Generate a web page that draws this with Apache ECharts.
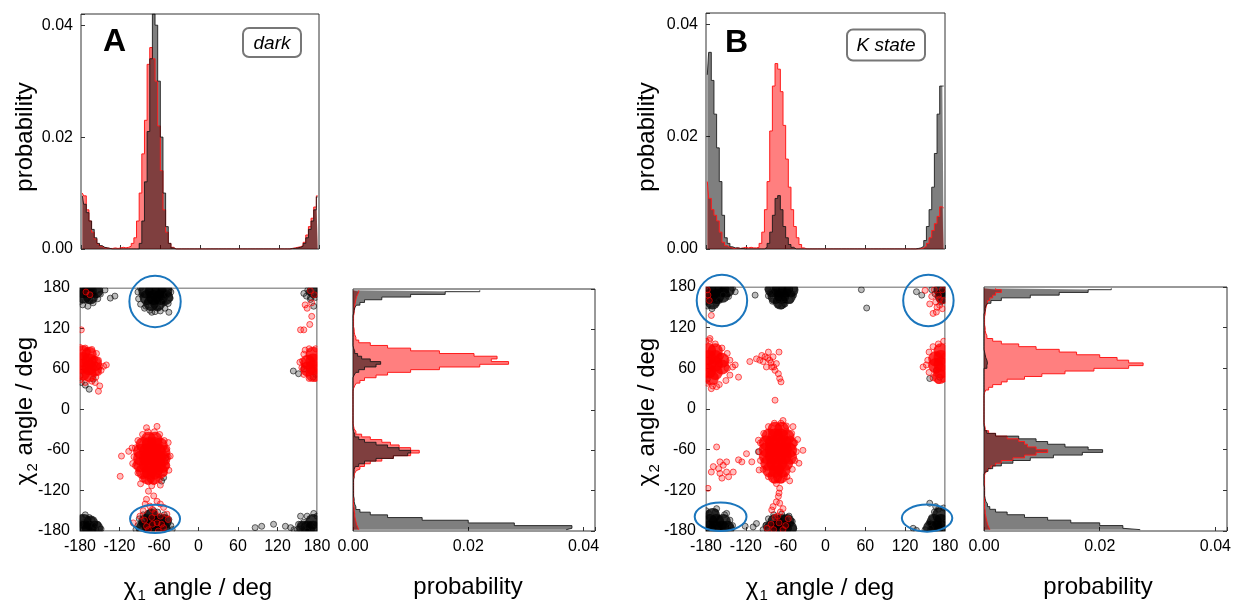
<!DOCTYPE html>
<html><head><meta charset="utf-8">
<script src="https://cdn.jsdelivr.net/npm/echarts@6/dist/echarts.min.js"></script>
<style>html,body{margin:0;padding:0;background:#fff}#c{width:1233px;height:602px}</style>
</head><body><div id="c"></div>
<script>
const FONT = "'Liberation Sans', Arial, sans-serif";

// bin centres (deg), 4-degree bins
const bins = [
-178,-174,-170,-166,-162,-158,-154,-150,-146,-142,
-138,-134,-130,-126,-122,-118,-114,-110,-106,-102,
-98,-94,-90,-86,-82,-78,-74,-70,-66,-62,
-58,-54,-50,-46,-42,-38,-34,-30,-26,-22,
-18,-14,-10,-6,-2,2,6,10,14,18,
22,26,30,34,38,42,46,50,54,58,
62,66,70,74,78,82,86,90,94,98,
102,106,110,114,118,122,126,130,134,138,
142,146,150,154,158,162,166,170,174,178];

// Panel A, chi1 distribution
const topA_black = [
0.0095,0.008,0.0065,0.005,0.0035,0.002,0.001,0.0006,0.0003,0.0002,
0.0001,0,0,0,0,0,0,0,0,0,
0,0,0.001,0.005,0.012,0.021,0.034,0.042,0.040,0.030,
0.020,0.010,0.004,0.001,0.0002,0,0,0,0,0,
0,0,0,0,0,0,0,0,0,0,
0,0,0,0,0,0,0,0,0,0,
0,0,0,0,0,0,0,0,0,0,
0,0,0,0,0,0,0,0,0,0.0001,
0.0001,0.0002,0.0003,0.0005,0.001,0.002,0.0035,0.005,0.007,0.0093];
const topA_red = [
0.010,0.0095,0.007,0.005,0.003,0.0018,0.0009,0.0005,0.0002,0.0002,
0.0001,0.0001,0.0002,0.0001,0.0002,0.0003,0.0002,0.0003,0.0005,0.001,
0.002,0.005,0.010,0.017,0.023,0.033,0.036,0.034,0.030,0.022,
0.014,0.007,0.003,0.001,0.0003,0,0,0,0,0,
0,0,0,0,0,0,0,0,0,0,
0,0,0,0,0,0,0,0,0,0,
0,0,0,0,0,0,0,0,0,0,
0,0,0,0,0,0,0,0,0,0.0001,
0.0002,0.0003,0.0004,0.0006,0.0012,0.0025,0.004,0.0055,0.0075,0.0095];
// Panel A, chi2 distribution
const rightA_black = [
0.037,0.038,0.028,0.020,0.012,0.006,0.003,0.0012,0.0005,0.0003,
0.0002,0.0002,0.0001,0.0001,0.0001,0.0001,0.0001,0.0001,0.0001,0.0002,
0.0001,0.0002,0.0002,0.0004,0.001,0.002,0.004,0.007,0.0095,0.010,
0.008,0.006,0.004,0.002,0.001,0.0003,0.0001,0,0,0,
0,0,0,0,0,0,0,0,0,0,
0,0,0,0,0,0,0,0.0002,0.0005,0.001,
0.002,0.004,0.0048,0.003,0.0015,0.0008,0.0003,0.0001,0,0,
0,0,0,0,0,0,0,0,0,0,
0.0001,0.0002,0.0003,0.0006,0.0012,0.002,0.005,0.010,0.016,0.022];
const rightA_red = [
0.001,0.0008,0.0006,0.0005,0.0004,0.0003,0.0003,0.0002,0.0002,0.0001,
0.0001,0.0001,0.0001,0.0001,0.0001,0.0001,0.0001,0.0001,0.0001,0.0001,
0.0002,0.0003,0.0006,0.0012,0.002,0.003,0.005,0.007,0.010,0.0115,
0.010,0.008,0.0065,0.005,0.003,0.0015,0.0005,0.0002,0.0001,0,
0,0,0,0,0,0,0,0,0,0,
0,0,0.0001,0.0003,0.0006,0.0012,0.002,0.004,0.006,0.010,
0.015,0.022,0.027,0.024,0.025,0.021,0.015,0.010,0.006,0.003,
0.001,0.0005,0.0003,0.0002,0.0002,0.0001,0.0001,0.0001,0.0001,0.0001,
0.0002,0.0002,0.0003,0.0003,0.0004,0.0005,0.0006,0.0008,0.001,0.001];
// Panel B, chi1 distribution
const topB_black = [
0.031,0.035,0.030,0.024,0.018,0.012,0.006,0.002,0.001,0.0004,
0.0002,0.0002,0.0001,0.0001,0,0,0,0,0,0,
0,0,0.0003,0.001,0.003,0.006,0.009,0.0095,0.007,0.004,
0.002,0.0008,0.0003,0,0,0,0,0,0,0,
0,0,0,0,0,0,0,0,0,0,
0,0,0,0,0,0,0,0,0,0,
0,0,0,0,0,0,0,0,0,0,
0,0,0,0,0,0,0,0,0,0.0001,
0.0002,0.0005,0.0015,0.004,0.007,0.011,0.017,0.024,0.029,0.029];
const topB_red = [
0.012,0.009,0.007,0.006,0.005,0.003,0.0012,0.0006,0.0003,0.0002,
0.0001,0.0002,0.0001,0.0002,0.0003,0.0002,0.0003,0.0002,0.0002,0.0003,
0.001,0.003,0.007,0.012,0.021,0.029,0.033,0.032,0.028,0.022,
0.016,0.011,0.007,0.004,0.002,0.0008,0.0002,0,0,0,
0,0,0,0,0,0,0,0,0,0,
0,0,0,0,0,0,0,0,0,0,
0,0,0,0,0,0,0,0,0,0,
0,0,0,0,0,0,0,0,0,0,
0.0001,0.0002,0.0005,0.001,0.002,0.0033,0.0045,0.0058,0.0075,0.0073];
// Panel B, chi2 distribution
const rightB_black = [
0.027,0.024,0.020,0.015,0.011,0.007,0.004,0.002,0.001,0.0006,
0.0003,0.0002,0.0001,0.0001,0.0001,0.0001,0,0,0,0,
0,0.0003,0.0007,0.0015,0.003,0.005,0.008,0.012,0.017,0.0205,
0.018,0.014,0.011,0.009,0.006,0.002,0.0005,0.0001,0,0,
0,0,0,0,0,0,0,0,0,0,
0,0,0,0,0,0,0,0,0,0,
0.0005,0.0006,0.0005,0.0003,0.0002,0.0001,0,0,0,0,
0,0,0,0,0,0,0,0,0,0,
0.0002,0.0002,0.0003,0.0006,0.0012,0.003,0.008,0.013,0.018,0.022];
const rightB_red = [
0.001,0.0008,0.0006,0.0005,0.0004,0.0003,0.0002,0.0002,0.0001,0.0001,
0.0001,0.0001,0.0001,0.0001,0.0001,0.0001,0.0001,0.0001,0.0001,0.0001,
0.0001,0.0002,0.0006,0.0012,0.002,0.003,0.005,0.007,0.009,0.011,
0.009,0.0075,0.007,0.006,0.004,0.002,0.0008,0.0002,0.0001,0,
0,0,0,0,0,0,0,0,0,0,
0.0001,0.0003,0.0008,0.0015,0.003,0.004,0.007,0.010,0.014,0.019,
0.025,0.0275,0.025,0.023,0.020,0.016,0.013,0.009,0.006,0.003,
0.0015,0.0005,0.0003,0.0002,0.0002,0.0001,0.0001,0.0001,0.0001,0.0002,
0.0002,0.0003,0.0004,0.0006,0.0006,0.001,0.0015,0.002,0.003,0.002];

// Scatter points [chi1, chi2] (deg). "Core" = dense cluster interiors.
const A_blackCore = [
[-80,176],[-70,176],[-60,176],[-51,176],[-78,166],[-68,166],[-58,166],[-50,166],[-72,157],[-62,157],
[-176,176],[-166,176],[-156,176],[-174,168],[-164,167],
[176,176],
[-84,-176],[-74,-176],[-64,-176],[-54,-176],[-80,-166],[-70,-166],[-60,-166],[-52,-166],[-72,-158],
[-176,-176],[-166,-176],[-156,-176],[-174,-166],[-164,-168],
[174,-176],[166,-176],[160,-176],[174,-166]];
const A_black = [
[-92,174],[-91,164],[-88,156],[-82,150],[-74,147],[-66,145],[-58,146],[-51,150],[-46,157],[-43,165],[-42,174],[-88,180],[-45,180],[-71,144],[-45,144],[-80,153],[-52,158],[-86,170],[-47,170],[-62,150],
[-180,160],[-176,155],[-168,153],[-160,158],[-153,164],[-149,171],[-152,177],[-142,177],[-134,165],[-127,168],[-165,162],[-158,170],
[166,177],[160,172],[164,168],[170,166],[178,166],[168,174],[180,172],[175,153],[170,163],
[-178,40],[-172,36],[-166,30],[-160,45],[-180,50],
[144,57],[152,53],[160,60],[174,48],[178,52],
[-53,-101],[-56,-106],[-50,-72],[-60,-92],
[-92,-172],[-90,-162],[-84,-156],[-74,-153],[-62,-152],[-52,-156],[-45,-163],[-42,-172],[-95,-178],[-40,-178],[-68,-150],[-86,-168],
[-178,-160],[-172,-156],[-162,-164],[-153,-170],[-148,-177],[-156,-178],[-180,-170],[-166,-160],[-158,-172],
[158,-176],[160,-167],[165,-158],[175,-154],[180,-158],[150,-178],[155,-170],[165,-180],[86,-175],[96,-173],[114,-170],[132,-173],[140,-175],[145,-178],[152,-170],[155,-158],[178,-170]];
const A_redCore = [
[-176,84],[-166,82],[-176,74],[-166,72],[-158,68],[-176,64],[-166,62],[-158,60],[-176,54],[-166,52],
[174,82],[174,72],[166,70],[174,62],[166,60],[174,52],
[-76,-44],[-66,-44],
[-84,-52],[-75,-52],[-66,-52],[-58,-53],
[-88,-62],[-79,-62],[-70,-62],[-61,-62],[-54,-63],
[-88,-72],[-79,-72],[-70,-72],[-61,-72],[-54,-73],
[-88,-82],[-79,-82],[-70,-82],[-61,-82],[-55,-83],
[-84,-92],[-75,-92],[-66,-92],[-58,-91],
[-77,-100],[-68,-100]];
const A_red = [
[-171,174],[-165,170],
[162,155],[172,158],[155,118],[160,118],[172,138],[165,150],[169,126],[176,170],[170,176],
[-180,92],[-172,91],[-162,89],[-155,83],[-152,73],[-150,64],[-152,55],[-156,48],[-162,42],[-172,40],[-180,44],[-148,58],[-144,64],[-140,66],[-157,40],[-150,35],[-152,27],[-178,118],[-168,86],[-158,74],
[160,82],[158,72],[157,62],[160,52],[168,46],[178,46],[178,90],[168,90],[162,88],[180,62],[154,70],
[-46,-70],[-48,-58],[-52,-46],[-59,-37],[-67,-33],[-77,-33],[-85,-37],[-92,-46],[-96,-57],[-98,-70],[-96,-83],[-92,-94],[-85,-103],[-76,-107],[-68,-107],[-59,-103],[-52,-94],[-48,-83],
[-117,-69],[-119,-99],[-106,-62],[-101,-57],[-63,-25],[-79,-27],[-46,-49],[-43,-69],[-100,-80],[-45,-90],[-88,-110],[-58,-112],
[-71,-113],[-76,-121],[-68,-128],[-79,-133],[-63,-136],[-74,-143],[-58,-140],[-81,-140],[-53,-145],[-70,-148],
[-99,-168],[-46,-163],[-89,-158],[-79,-173],[-63,-168],[-53,-175],[-71,-160],[-58,-158],[-84,-150],[-48,-155],[-66,-153],[-76,-178],[-61,-180],[-70,-170],[-82,-164],[-56,-170]];

const B_blackCore = [
[-176,176],[-166,176],[-156,176],[-148,176],[-174,166],[-164,166],[-155,168],[-170,158],
[-80,176],[-70,176],[-60,176],[-52,176],[-76,166],[-66,166],[-56,166],[-68,158],
[174,176],[176,166],
[-82,-176],[-72,-176],[-62,-176],[-54,-176],[-76,-166],[-66,-166],[-58,-166],
[-176,-176],[-166,-176],[-156,-176],[-148,-176],[-174,-166],[-164,-166],[-154,-166],[-170,-157],
[176,-176],[166,-176],[158,-176],[174,-166],[164,-166],[172,-156]];
const B_black = [
[-180,158],[-178,152],[-171,148],[-160,160],[-146,166],[-136,173],[-140,178],[-154,168],[-165,156],[-106,168],
[-87,177],[-86,167],[-80,159],[-71,154],[-61,155],[-53,160],[-48,168],[-47,177],[-66,152],[-83,172],
[54,176],[62,149],
[137,173],[145,168],[160,176],[180,176],[174,158],[165,170],
[-163,72],[-178,44],
[-101,-63],
[-90,-172],[-86,-162],[-78,-156],[-66,-155],[-55,-158],[-50,-166],[-48,-176],[-94,-178],[-109,-174],[-104,-169],[-121,-173],[-89,-171],
[-180,-160],[-176,-154],[-166,-152],[-164,-147],[-152,-156],[-144,-164],[-140,-172],[-146,-179],[-149,-154],[-144,-174],[-180,-150],
[158,-176],[156,-168],[160,-160],[164,-152],[170,-148],[178,-146],[180,-165],[157,-139],[150,-178],[132,-176],[137,-179],[166,-144],
[167,57],[172,47],[157,45]];
const B_redCore = [
[-176,86],[-166,86],[-176,76],[-166,76],[-156,72],[-176,66],[-166,66],[-156,62],[-176,56],[-166,54],[-172,46],
[174,86],[174,76],[166,74],[174,66],[166,64],[174,56],[172,48],
[-76,-30],[-66,-30],
[-85,-40],[-76,-40],[-67,-40],[-58,-41],
[-89,-50],[-80,-50],[-71,-50],[-62,-50],[-54,-51],
[-89,-60],[-80,-60],[-71,-60],[-62,-60],[-54,-61],
[-89,-70],[-80,-70],[-71,-70],[-62,-70],[-54,-71],
[-87,-80],[-78,-80],[-69,-80],[-60,-80],
[-84,-90],[-74,-90],[-64,-90],
[-76,-99],[-68,-99]];
const B_red = [
[-177,168],[-175,160],[-172,138],[-178,176],
[150,175],[160,166],[166,158],[172,153],[167,143],[162,141],[176,148],[157,155],[170,168],[178,160],[164,176],[176,176],[172,162],[168,150],
[-180,100],[-174,104],[-166,96],[-156,90],[-148,82],[-144,72],[-140,62],[-144,50],[-150,42],[-160,36],[-170,34],[-178,38],[-136,65],[-131,47],[-172,30],[-164,33],[-175,101],[-180,52],[-158,78],[-148,60],
[-114,70],[-104,74],[-96,79],[-86,84],[-94,70],[-84,72],[-81,62],[-76,57],[-71,52],[-69,45],[-89,62],[-79,77],[-99,72],[-70,84],[-74,67],[-91,77],[-67,40],[-82,68],[-87,75],[-78,62],
[-76,13],
[-44,-63],[-46,-50],[-51,-36],[-59,-25],[-67,-21],[-77,-21],[-86,-26],[-93,-36],[-98,-50],[-100,-63],[-98,-76],[-94,-89],[-86,-100],[-77,-105],[-67,-105],[-58,-100],[-50,-89],[-46,-76],
[-101,-46],[-64,-17],[-49,-26],[-34,-61],[-69,-117],[-74,-110],[-42,-45],[-40,-80],[-100,-90],[-54,-106],
[-177,-117],[-164,-56],[-119,-66],[-111,-78],[-126,-78],[-131,-75],[-149,-78],[-159,-78],[-169,-85],[-172,-93],[-159,-95],[-149,-93],[-146,-100],[-156,-102],[-139,-93],[-161,-88],[-154,-83],
[-71,-129],[-69,-139],[-79,-144],[-74,-137],[-81,-149],[-64,-147],[-70,-124],
[-82,-170],[-70,-168],[-60,-172],[-76,-160],[-64,-178],[-56,-162],[-88,-176],[-68,-152],[-72,-158],[-78,-178],
[162,92],[170,96],[178,100],[156,84],[154,72],[152,65],[156,54],[162,46],[170,42],[178,44],[147,62],[180,78]];

// annotation ellipses [cx, cy, rx, ry] in degrees
const A_rings = [[-66,160,39,38],[-66,-162,38,21]];
const B_rings = [[-156,160,38,38],[155,160,38,38],[-158,-159,39,21],[153,-161,38,20]];

const probTicks = [0, 0.02, 0.04];
const angleTicks = [-180,-120,-60,0,60,120,180];

const tickStyle = {inside:true, length:4, lineStyle:{color:'#333', width:1}};
const lbl = {color:'#000', fontSize:16, fontFamily:FONT};
const noLine = {show:false, onZero:false};
function angleAxis(grid, showLabel, margin){
  return {type:'value', gridIndex:grid, min:angleTicks[0], max:angleTicks[angleTicks.length-1], interval:60,
    axisLine:noLine, splitLine:{show:false}, axisTick:tickStyle,
    axisLabel: showLabel ? Object.assign({margin:margin}, lbl) : {show:false}};
}
function probAxis(grid, showLabel, margin){
  return {type:'value', gridIndex:grid, min:0, max:0.042, interval:0.02,
    axisLine:noLine, splitLine:{show:false}, axisTick:tickStyle,
    axisLabel: showLabel ? Object.assign({margin:margin,
      formatter:v => probTicks.some(t=>Math.abs(t-v)<1e-9) ? v.toFixed(2) : ''}, lbl) : {show:false}};
}
function catAxis(grid){
  return {type:'category', gridIndex:grid, data:bins.map(String), show:false, boundaryGap:true, axisLine:noLine};
}

const gridBase = {show:true, borderColor:'#333', borderWidth:1, backgroundColor:'transparent', containLabel:false, outerBoundsMode:'none'};
const G = [
  {left:81, top:14, width:238, height:235},
  {left:80, top:288, width:237, height:243},
  {left:353, top:289, width:242, height:242},
  {left:706, top:13, width:239, height:236},
  {left:706, top:287, width:239, height:244},
  {left:984, top:287, width:243, height:244}
];
const grids = G.map(g => Object.assign({}, g, gridBase));

const RED_LINE = '#ff1a1a', RED_AREA = 'rgba(255,0,0,0.5)';
const BLK_LINE = 'rgba(20,20,20,0.85)', BLK_AREA = 'rgba(0,0,0,0.5)';

function topHist(values, xi, yi, line, area){
  return {type:'line', xAxisIndex:xi, yAxisIndex:yi, data:bins.map((b,i)=>[b, values[i]]),
    step:'middle', symbol:'none', showSymbol:false, silent:true,
    lineStyle:{color:line, width:1}, areaStyle:{color:area, opacity:1}};
}
function sideHist(values, xi, yi, line, area){
  return {type:'line', xAxisIndex:xi, yAxisIndex:yi, data:values.slice(),
    step:'middle', symbol:'none', showSymbol:false, silent:true,
    lineStyle:{color:line, width:1}, areaStyle:{color:area, opacity:1}};
}
function pts(data, xi, yi, core, red){
  return {type:'scatter', xAxisIndex:xi, yAxisIndex:yi, data:data, silent:true,
    symbolSize: core ? 15 : 6,
    itemStyle: core ? {color: red ? '#ff0000' : '#000000', borderWidth:0}
      : {color: red ? 'rgba(255,0,0,0.32)' : 'rgba(0,0,0,0.32)', borderColor: red ? '#ff0000' : '#111', borderWidth:0.8}};
}
function ringRender(params, api){
  const c = api.coord([api.value(0), api.value(1)]);
  const s = api.size([api.value(2), api.value(3)]);
  return {type:'ellipse', shape:{cx:c[0], cy:c[1], rx:s[0], ry:s[1]},
    style:{fill:'none', stroke:'#1b76bd', lineWidth:2}};
}
function rings(data, xi, yi){
  return {type:'custom', xAxisIndex:xi, yAxisIndex:yi, data:data, clip:false, silent:true, z:10,
    renderItem:ringRender};
}
// white strips around a scatter frame so markers look clipped at the frame
function masks(g){
  const L=g.left, T=g.top, W=g.width, H=g.height;
  const r = (x,y,w,h) => ({type:'rect', silent:true, z:5, shape:{x:x,y:y,width:w,height:h}, style:{fill:'#fff'}});
  return [r(L-10,T-10,W+20,9.5), r(L-10,T+H+0.6,W+20,7), r(L-9,T-10,8.5,H+18), r(L+W+0.6,T-10,9,H+18)];
}

const nameRich = {
  m:{fontSize:24, fontFamily:FONT, fill:'#000', color:'#000'},
  s:{fontSize:15, fontFamily:FONT, fill:'#000', color:'#000', verticalAlign:'top', padding:[15,1,0,1]}
};
function nameText(x, y, text, rotate){
  return {type:'text', x:x, y:y, rotation: rotate ? Math.PI/2 : 0, silent:true,
    style:{text:text, rich:nameRich, font:'24px '+FONT, fill:'#000',
      textAlign:'center', align:'center', textVerticalAlign:'middle', verticalAlign:'middle'}};
}
function letter(x, y, t){
  return {type:'text', x:x, y:y, silent:true, style:{text:t, font:'bold 32px '+FONT, fill:'#000',
    textAlign:'left', align:'left', textVerticalAlign:'middle', verticalAlign:'middle'}};
}
function tagBox(x, y, w, h, t){
  return [
    {type:'rect', silent:true, shape:{x:x, y:y, width:w, height:h, r:6},
      style:{fill:'#fff', stroke:'#777', lineWidth:2}, z:20},
    {type:'text', silent:true, x:x+w/2, y:y+h/2+1, z:21, style:{text:t, font:'italic 19px '+FONT, fill:'#000',
      textAlign:'center', align:'center', textVerticalAlign:'middle', verticalAlign:'middle'}}
  ];
}

const option = {
  animation:false,
  backgroundColor:'#fff',
  grid: grids,
  xAxis: [
    angleAxis(0,false), angleAxis(1,true,8), probAxis(2,true,8),
    angleAxis(3,false), angleAxis(4,true,8), probAxis(5,true,8)
  ],
  yAxis: [
    probAxis(0,true,8), angleAxis(1,true,10), catAxis(2), angleAxis(2,false),
    probAxis(3,true,8), angleAxis(4,true,10), catAxis(5), angleAxis(5,false)
  ],
  series: [
    topHist(topA_red,0,0,RED_LINE,RED_AREA), topHist(topA_black,0,0,BLK_LINE,BLK_AREA),
    pts(A_blackCore,1,1,true,false), pts(A_black,1,1,false,false),
    pts(A_redCore,1,1,true,true), pts(A_red,1,1,false,true),
    rings(A_rings,1,1),
    sideHist(rightA_red,2,2,RED_LINE,RED_AREA), sideHist(rightA_black,2,2,BLK_LINE,BLK_AREA),
    topHist(topB_red,3,4,RED_LINE,RED_AREA), topHist(topB_black,3,4,BLK_LINE,BLK_AREA),
    pts(B_blackCore,4,5,true,false), pts(B_black,4,5,false,false),
    pts(B_redCore,4,5,true,true), pts(B_red,4,5,false,true),
    rings(B_rings,4,5),
    sideHist(rightB_red,5,6,RED_LINE,RED_AREA), sideHist(rightB_black,5,6,BLK_LINE,BLK_AREA)
  ],
  graphic: [
    ...masks(G[1]), ...masks(G[4]),
    letter(103,42,'A'), letter(725,43,'B'),
    ...tagBox(243,28,58,29,'dark'),
    ...tagBox(847,29.5,78,31,'K state'),
    nameText(25,137,'probability',true),
    nameText(25,411,'{m|χ}{s|2}{m| angle / deg}',true),
    nameText(198,588,'{m|χ}{s|1}{m| angle / deg}',false),
    nameText(468,587,'probability',false),
    nameText(647,137,'probability',true),
    nameText(647,412,'{m|χ}{s|2}{m| angle / deg}',true),
    nameText(820,588,'{m|χ}{s|1}{m| angle / deg}',false),
    nameText(1098,587,'probability',false)
  ]
};
const chart = echarts.init(document.getElementById('c'), null, {renderer:'canvas'});
chart.setOption(option);
</script></body></html>
